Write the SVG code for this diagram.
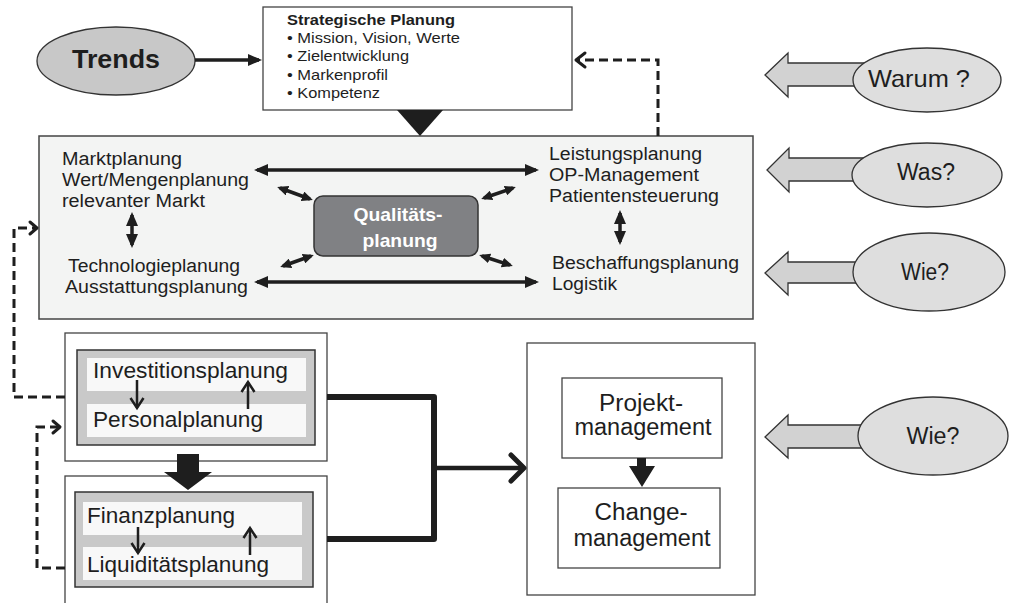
<svg xmlns="http://www.w3.org/2000/svg" width="1010" height="603" viewBox="0 0 1010 603">
<defs>
<style>
text{font-family:"Liberation Sans",Arial,sans-serif;fill:#1e1e1e}
.b{font-weight:bold}
.box{fill:#fff;stroke:#444;stroke-width:1.3}
.inner{fill:#c9c9c9;stroke:#333;stroke-width:1.5}
.strip{fill:#f8f8f8}
.ell{fill:#dedede;stroke:#333;stroke-width:1.3}
.blk{fill:#d2d2d2;stroke:#333;stroke-width:1.3}
.dash{fill:none;stroke:#1e1e1e;stroke-width:3;stroke-dasharray:9 5}
.chev{fill:none;stroke:#1e1e1e;stroke-width:3;stroke-linecap:round;stroke-linejoin:round}
.thick{fill:none;stroke:#1e1e1e;stroke-width:6;stroke-linejoin:round}
.dbl{stroke:#1e1e1e;stroke-width:3.5;fill:none}
.thin{stroke:#1e1e1e;stroke-width:2.5;fill:none}
.st{font-size:15px}
.mt{font-size:18px}
.bt{font-size:21.5px}
.et{font-size:23px}
.pt{font-size:23.5px}
.qt{font-size:19px;font-weight:bold}
</style>
<marker id="ah" markerUnits="userSpaceOnUse" markerWidth="14" markerHeight="12" viewBox="0 0 14 12" refX="11" refY="6" orient="auto-start-reverse">
<path d="M0,0 L14,6 L0,12 z" fill="#1e1e1e"/>
</marker>
<marker id="ahs" markerUnits="userSpaceOnUse" markerWidth="11" markerHeight="10" viewBox="0 0 11 10" refX="8" refY="5" orient="auto-start-reverse">
<path d="M0,0 L11,5 L0,10 z" fill="#1e1e1e"/>
</marker>
<marker id="av" markerUnits="userSpaceOnUse" markerWidth="14" markerHeight="16" viewBox="0 0 14 16" refX="11" refY="8" orient="auto">
<path d="M1,1.5 L11,8 L1,14.5" fill="none" stroke="#1e1e1e" stroke-width="2.5" stroke-linejoin="miter"/>
</marker>
</defs>

<g id="strategische-planung">
<rect class="box" x="263" y="7" width="309" height="103"/>
<text class="b" x="287" y="25" font-size="14.5" textLength="168" lengthAdjust="spacingAndGlyphs">Strategische Planung</text>
<text class="st" x="287" y="43" textLength="173" lengthAdjust="spacingAndGlyphs">• Mission, Vision, Werte</text>
<text class="st" x="287" y="61" textLength="122" lengthAdjust="spacingAndGlyphs">• Zielentwicklung</text>
<text class="st" x="287" y="80" textLength="101" lengthAdjust="spacingAndGlyphs">• Markenprofil</text>
<text class="st" x="287" y="98" textLength="93" lengthAdjust="spacingAndGlyphs">• Kompetenz</text>
</g>

<g id="trends">
<ellipse cx="116" cy="61" rx="79" ry="34" fill="#c8c8c8" stroke="#333" stroke-width="1.3"/>
<text class="b" x="72" y="68" font-size="26" textLength="88" lengthAdjust="spacingAndGlyphs">Trends</text>
</g>

<g id="main-box">
<rect x="39" y="136" width="714" height="183" fill="#f3f4f3" stroke="#444" stroke-width="1.5"/>
<text class="mt" x="62" y="165" textLength="120" lengthAdjust="spacingAndGlyphs">Marktplanung</text>
<text class="mt" x="62" y="186" textLength="187" lengthAdjust="spacingAndGlyphs">Wert/Mengenplanung</text>
<text class="mt" x="62" y="207" textLength="143" lengthAdjust="spacingAndGlyphs">relevanter Markt</text>
<text class="mt" x="68" y="272" textLength="172" lengthAdjust="spacingAndGlyphs">Technologieplanung</text>
<text class="mt" x="65" y="293" textLength="183" lengthAdjust="spacingAndGlyphs">Ausstattungsplanung</text>
<text class="mt" x="549" y="160" textLength="153" lengthAdjust="spacingAndGlyphs">Leistungsplanung</text>
<text class="mt" x="549" y="181" textLength="150" lengthAdjust="spacingAndGlyphs">OP-Management</text>
<text class="mt" x="549" y="202" textLength="170" lengthAdjust="spacingAndGlyphs">Patientensteuerung</text>
<text class="mt" x="552" y="269" textLength="187" lengthAdjust="spacingAndGlyphs">Beschaffungsplanung</text>
<text class="mt" x="552" y="290" textLength="65" lengthAdjust="spacingAndGlyphs">Logistik</text>
</g>

<g id="qualitaetsplanung">
<rect x="314" y="196" width="164" height="60" rx="9" fill="#808184" stroke="#333" stroke-width="1.5"/>
<text class="qt" x="398" y="221" text-anchor="middle" textLength="89" lengthAdjust="spacingAndGlyphs" style="fill:#fff">Qualitäts-</text>
<text class="qt" x="400" y="247" text-anchor="middle" textLength="75" lengthAdjust="spacingAndGlyphs" style="fill:#fff">planung</text>
</g>

<g id="investition-personal">
<rect class="box" x="65" y="333" width="262" height="128"/>
<rect class="inner" x="77" y="350" width="238" height="95"/>
<rect class="strip" x="87" y="358" width="219" height="33"/>
<rect class="strip" x="87" y="404" width="219" height="33"/>
<text class="bt" x="93" y="378" textLength="195" lengthAdjust="spacingAndGlyphs">Investitionsplanung</text>
<text class="bt" x="93" y="427" textLength="170" lengthAdjust="spacingAndGlyphs">Personalplanung</text>
<line class="thin" x1="137" y1="380" x2="137" y2="408" marker-end="url(#av)"/>
<line class="thin" x1="248" y1="409" x2="248" y2="382" marker-end="url(#av)"/>
</g>

<g id="finanz-liquiditaet">
<rect class="box" x="65" y="476" width="262" height="140"/>
<rect class="inner" x="75" y="492" width="238" height="95"/>
<rect class="strip" x="83" y="502" width="219" height="33"/>
<rect class="strip" x="83" y="547" width="219" height="33"/>
<text class="bt" x="87" y="523" textLength="148" lengthAdjust="spacingAndGlyphs">Finanzplanung</text>
<text class="bt" x="87" y="572" textLength="182" lengthAdjust="spacingAndGlyphs">Liquiditätsplanung</text>
<line class="thin" x1="138" y1="527" x2="138" y2="553" marker-end="url(#av)"/>
<line class="thin" x1="250" y1="555" x2="250" y2="528" marker-end="url(#av)"/>
</g>

<g id="management-box">
<rect class="box" x="527" y="343" width="228" height="252"/>
<rect class="box" x="562" y="378" width="160" height="80"/>
<rect class="box" x="558" y="488" width="162" height="80"/>
<text class="pt" x="641" y="411" text-anchor="middle" textLength="84" lengthAdjust="spacingAndGlyphs">Projekt-</text>
<text class="pt" x="643" y="435" text-anchor="middle" textLength="137" lengthAdjust="spacingAndGlyphs">management</text>
<text class="pt" x="641" y="520" text-anchor="middle" textLength="93" lengthAdjust="spacingAndGlyphs">Change-</text>
<text class="pt" x="642" y="546" text-anchor="middle" textLength="137" lengthAdjust="spacingAndGlyphs">management</text>
</g>

<g id="warum">
<polygon class="blk" points="765,75 788,53 788,63 870,63 870,86 788,86 788,97"/>
<ellipse class="ell" cx="927" cy="80" rx="74" ry="32"/>
<text x="919" y="87" font-size="24" text-anchor="middle" textLength="102" lengthAdjust="spacingAndGlyphs">Warum ?</text>
</g>
<g id="was">
<polygon class="blk" points="767,170 789,148 789,158 870,158 870,181 789,181 789,192"/>
<ellipse class="ell" cx="927" cy="175" rx="75" ry="32"/>
<text class="et" x="926" y="180" text-anchor="middle" textLength="58" lengthAdjust="spacingAndGlyphs">Was?</text>
</g>
<g id="wie-1">
<polygon class="blk" points="765,273 788,252 788,262 870,262 870,283 788,283 788,295"/>
<ellipse class="ell" cx="929" cy="272" rx="76" ry="39"/>
<text class="et" x="925" y="280" text-anchor="middle" textLength="48" lengthAdjust="spacingAndGlyphs">Wie?</text>
</g>
<g id="wie-2">
<polygon class="blk" points="765,437 788,415 788,425 870,425 870,448 788,448 788,458"/>
<ellipse class="ell" cx="933" cy="436" rx="75" ry="39"/>
<text class="et" x="933" y="444" text-anchor="middle" textLength="53" lengthAdjust="spacingAndGlyphs">Wie?</text>
</g>

<g id="connectors">
<line class="dbl" x1="195" y1="60" x2="259" y2="60" marker-end="url(#ah)"/>
<polygon points="397,110 443,110 420,136" fill="#1e1e1e"/>
<path class="dash" d="M658,136 V60 H578"/>
<path class="chev" d="M585,53 L576,60 L585,67"/>
<path class="dash" d="M65,397 H14 V228 H35"/>
<path class="chev" d="M30,222 L37,228 L30,234"/>
<path class="dash" d="M65,568 H37 V427 H58"/>
<path class="chev" d="M53,421 L60,427 L53,433"/>
<path class="thick" d="M327,397 H434 V539 H327"/>
<line x1="434" y1="468" x2="522" y2="468" stroke="#1e1e1e" stroke-width="4.5"/>
<path d="M511,455 L524,468 L511,481" fill="none" stroke="#1e1e1e" stroke-width="5" stroke-linecap="round" stroke-linejoin="round"/>
<polygon points="177,454 199,454 199,472 212,472 188,490 164,472 177,472" fill="#1e1e1e"/>
<polygon points="637,458 646,458 646,466 655,466 642,487 629,466 637,466" fill="#1e1e1e"/>
<line class="dbl" x1="257" y1="170" x2="536" y2="170" marker-start="url(#ah)" marker-end="url(#ah)"/>
<line class="dbl" x1="257" y1="282" x2="536" y2="282" marker-start="url(#ah)" marker-end="url(#ah)"/>
<line class="dbl" stroke-width="4" x1="132" y1="215" x2="132" y2="245" marker-start="url(#ah)" marker-end="url(#ah)"/>
<line class="dbl" stroke-width="4" x1="620" y1="213" x2="620" y2="242" marker-start="url(#ah)" marker-end="url(#ah)"/>
<line class="dbl" x1="280" y1="188" x2="310" y2="199" marker-start="url(#ahs)" marker-end="url(#ahs)"/>
<line class="dbl" x1="484" y1="198" x2="513" y2="188" marker-start="url(#ahs)" marker-end="url(#ahs)"/>
<line class="dbl" x1="283" y1="266" x2="311" y2="256" marker-start="url(#ahs)" marker-end="url(#ahs)"/>
<line class="dbl" x1="482" y1="256" x2="510" y2="265" marker-start="url(#ahs)" marker-end="url(#ahs)"/>
</g>
</svg>
